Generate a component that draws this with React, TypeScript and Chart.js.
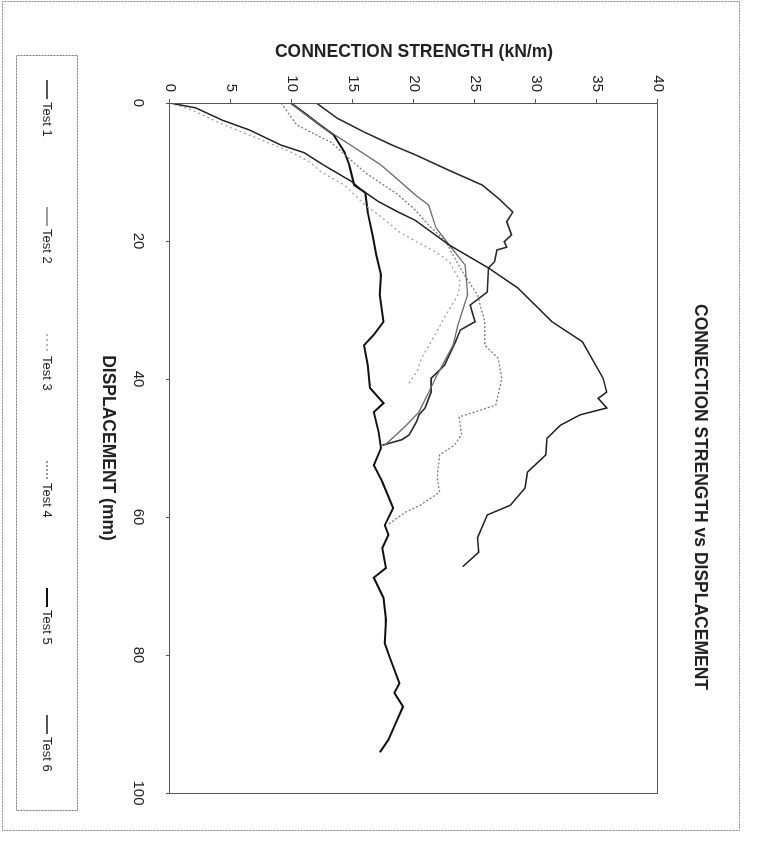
import React, { useEffect, useRef } from 'react';
import { Chart, registerables } from 'chart.js';

Chart.register(...registerables);

const TITLE = 'CONNECTION STRENGTH vs DISPLACEMENT';
const X_TITLE = 'DISPLACEMENT (mm)';
const Y_TITLE = 'CONNECTION STRENGTH (kN/m)';
const X_MIN = 0;
const X_MAX = 100;
const X_STEP = 20;
const Y_MIN = 0;
const Y_MAX = 40;
const Y_STEP = 5;

const SERIES_NAMES = ['Test 1', 'Test 2', 'Test 3', 'Test 4', 'Test 5', 'Test 6'];

const test1Disp = [0, 0.7, 2.5, 3.9, 6.1, 7.2, 9.0, 11.4, 12.6, 14.3, 15.8, 17.0, 20.6, 23.9, 26.8, 31.7, 34.6, 39.9, 41.9, 42.8, 44.2, 45.2, 46.7, 48.6, 51.0, 53.5, 55.8, 58.3, 59.7, 63.0, 65.1, 67.2];
const test1Str = [0, 2.1, 4.3, 6.5, 9.1, 11.0, 12.6, 14.9, 15.7, 17.1, 18.7, 20.1, 22.9, 26.1, 28.5, 31.3, 33.8, 35.5, 35.8, 35.1, 35.8, 33.6, 32.0, 30.9, 30.8, 29.3, 29.1, 27.9, 26.0, 25.2, 25.3, 24.0];

const test2Disp = [0, 1.5, 3.6, 6.1, 9.0, 13.3, 14.8, 18.1, 20.6, 23.5, 27.8, 32.2, 35.1, 39.4, 40.5, 44.8, 47.0, 49.6];
const test2Str = [9.9, 11.0, 12.6, 14.8, 17.3, 20.1, 21.2, 21.8, 22.9, 24.2, 24.4, 23.6, 23.2, 21.9, 21.6, 20.4, 19.2, 17.6];

const test3Disp = [0, 1.0, 3.0, 5.0, 7.1, 8.6, 10.0, 11.9, 14.8, 16.2, 18.7, 20.1, 21.6, 23.0, 25.9, 27.8, 31.4, 34.6, 37.0, 38.7, 40.9];
const test3Str = [0, 1.8, 4.2, 7.0, 9.9, 11.5, 12.4, 14.3, 16.0, 17.1, 18.8, 20.2, 21.8, 22.9, 23.8, 23.6, 22.4, 21.4, 20.6, 20.3, 19.5];

const test4Disp = [0, 3.2, 5.7, 10.1, 13.3, 15.5, 17.7, 20.1, 23.0, 25.4, 27.8, 31.7, 35.1, 37.0, 39.9, 43.8, 45.5, 48.1, 49.6, 51.0, 54.3, 56.4, 58.3, 59.3, 61.2];
const test4Str = [9.1, 10.4, 13.2, 16.0, 18.7, 20.1, 21.2, 22.6, 23.5, 24.3, 25.2, 25.8, 25.8, 26.9, 27.2, 26.7, 23.7, 23.9, 23.3, 22.1, 21.9, 22.1, 20.5, 19.3, 17.8];

const test5Disp = [0, 1.7, 3.2, 4.6, 7.1, 9.0, 11.9, 13.0, 15.8, 19.1, 22.0, 24.9, 27.8, 31.7, 33.6, 35.1, 38.0, 41.3, 43.5, 44.8, 47.7, 50.0, 52.5, 54.9, 58.7, 61.2, 62.6, 64.5, 67.4, 68.8, 71.7, 74.9, 78.3, 80.3, 84.1, 85.5, 87.5, 89.9, 92.3, 94.1];
const test5Str = [9.9, 11.2, 12.3, 13.4, 14.3, 14.7, 15.1, 16.0, 16.2, 16.6, 16.9, 17.3, 17.2, 17.5, 16.7, 15.9, 16.2, 16.4, 17.5, 16.7, 17.1, 17.3, 16.7, 17.4, 18.3, 17.6, 17.9, 17.4, 17.7, 16.7, 17.5, 17.7, 17.6, 18.0, 18.8, 18.4, 19.1, 18.5, 17.9, 17.2];

const test6Disp = [0, 2.2, 4.2, 6.1, 7.5, 9.7, 11.9, 13.8, 15.8, 17.2, 19.1, 20.1, 20.9, 21.3, 23.0, 23.9, 27.4, 29.3, 31.7, 32.9, 34.6, 38.0, 39.9, 41.9, 44.2, 45.2, 46.2, 48.1, 48.8, 49.6];
const test6Str = [12.0, 13.7, 15.9, 18.2, 20.1, 22.8, 25.6, 26.9, 28.1, 27.6, 28.0, 27.4, 27.6, 26.8, 26.6, 26.1, 26.0, 24.6, 25.0, 23.8, 23.4, 22.5, 21.4, 21.4, 20.9, 20.4, 20.2, 19.6, 19.0, 17.4];

const SERIES_DISP = [test1Disp, test2Disp, test3Disp, test4Disp, test5Disp, test6Disp];
const SERIES_STR = [test1Str, test2Str, test3Str, test4Str, test5Str, test6Str];

const SERIES_COLORS = ['#1e1e1e', '#6a6a6a', '#a0a0a0', '#7a7a7a', '#111111', '#2a2a2a'];
const SERIES_WIDTHS = [1.5, 1.3, 1.3, 1.3, 2, 1.6];
const SERIES_DASH: number[][] = [[], [], [2, 3], [2, 2], [], []];

const FONT = "'Liberation Sans', Arial, Helvetica, sans-serif";
const INK = '#222222';

const decorPlugin = {
  id: 'decor',
  beforeDraw(chart: any) {
    const { ctx, width, height } = chart;
    ctx.save();
    ctx.fillStyle = '#ffffff';
    ctx.fillRect(0, 0, width, height);
    ctx.restore();
  },
  afterDraw(chart: any) {
    const { ctx, chartArea: a } = chart;
    ctx.save();
    ctx.strokeStyle = '#555';
    ctx.lineWidth = 1;
    ctx.setLineDash([]);
    ctx.strokeRect(Math.round(a.left) + 0.5, Math.round(a.top) + 0.5, Math.round(a.right - a.left), Math.round(a.bottom - a.top));
    ctx.strokeStyle = '#888';
    ctx.setLineDash([2, 1]);
    ctx.strokeRect(1.5, 39.5, 829, 737);
    ctx.setLineDash([]);
    ctx.fillStyle = INK;
    ctx.font = `bold 17.5px ${FONT}`;
    ctx.textAlign = 'center';
    ctx.textBaseline = 'middle';
    ctx.fillText(TITLE, 497, 79);
    const boxL = 55, boxR = 810, boxT = 701, boxB = 762;
    ctx.strokeStyle = '#777';
    ctx.setLineDash([2, 1]);
    ctx.strokeRect(boxL + 0.5, boxT + 0.5, boxR - boxL, boxB - boxT);
    ctx.font = `13px ${FONT}`;
    ctx.textAlign = 'left';
    const cy = 732;
    chart.data.datasets.forEach((ds: any, i: number) => {
      const start = 102 + 127 * i;
      ctx.strokeStyle = ds.borderColor;
      ctx.lineWidth = ds.borderWidth;
      ctx.setLineDash(ds.borderDash || []);
      ctx.beginPath();
      ctx.moveTo(start - 22, cy);
      ctx.lineTo(start - 3, cy);
      ctx.stroke();
      ctx.fillStyle = INK;
      ctx.fillText(ds.label, start, cy);
    });
    ctx.restore();
  },
};

export default function App() {
  const canvasRef = useRef<HTMLCanvasElement | null>(null);

  useEffect(() => {
    if (!canvasRef.current) return;
    const datasets = SERIES_NAMES.map((name, i) => ({
      label: name,
      data: SERIES_DISP[i].map((d, j) => ({ x: d, y: SERIES_STR[i][j] })),
      borderColor: SERIES_COLORS[i],
      backgroundColor: SERIES_COLORS[i],
      borderWidth: SERIES_WIDTHS[i],
      borderDash: SERIES_DASH[i],
      pointRadius: 0,
      showLine: true,
      tension: 0,
      fill: false,
    }));
    const chart = new Chart(canvasRef.current, {
      type: 'scatter',
      data: { datasets },
      options: {
        animation: false,
        responsive: false,
        devicePixelRatio: 1,
        layout: { padding: { left: 0, right: 54, top: 121, bottom: 0 } },
        plugins: {
          legend: { display: false },
          title: { display: false },
          tooltip: { enabled: false },
        },
        scales: {
          x: {
            type: 'linear',
            position: 'bottom',
            min: X_MIN,
            max: X_MAX,
            afterFit: (s: any) => { s.height = 170; },
            ticks: { stepSize: X_STEP, padding: 19, maxRotation: 0, color: INK, font: { family: FONT, size: 15 } },
            grid: { display: true, drawOnChartArea: false, drawTicks: true, tickLength: 4, color: '#555' },
            border: { display: true, color: '#555' },
            title: { display: true, text: X_TITLE, color: INK, font: { family: FONT, size: 17.5, weight: 'bold' }, padding: { top: 0, bottom: 97 } },
          },
          y: {
            type: 'linear',
            position: 'left',
            min: Y_MIN,
            max: Y_MAX,
            afterFit: (s: any) => { s.width = 103; },
            ticks: { stepSize: Y_STEP, padding: 7, color: INK, font: { family: FONT, size: 15 } },
            grid: { display: true, drawOnChartArea: false, drawTicks: true, tickLength: 4, color: '#555' },
            border: { display: true, color: '#555' },
            title: { display: true, text: Y_TITLE, color: INK, font: { family: FONT, size: 17.5, weight: 'bold' }, padding: { top: 42, bottom: 0 } },
          },
        },
      },
      plugins: [decorPlugin],
    } as any);
    return () => chart.destroy();
  }, []);

  return (
    <div style={{ position: 'fixed', left: 0, top: 0, width: 779, height: 847, background: '#fff', overflow: 'hidden' }}>
      <div
        style={{
          position: 'absolute',
          left: 0,
          top: 0,
          width: 847,
          height: 779,
          transformOrigin: '0 0',
          transform: 'translate(779px, 0px) rotate(90deg)',
        }}
      >
        <canvas ref={canvasRef} width={847} height={779} style={{ display: 'block', width: 847, height: 779 }} />
      </div>
    </div>
  );
}
